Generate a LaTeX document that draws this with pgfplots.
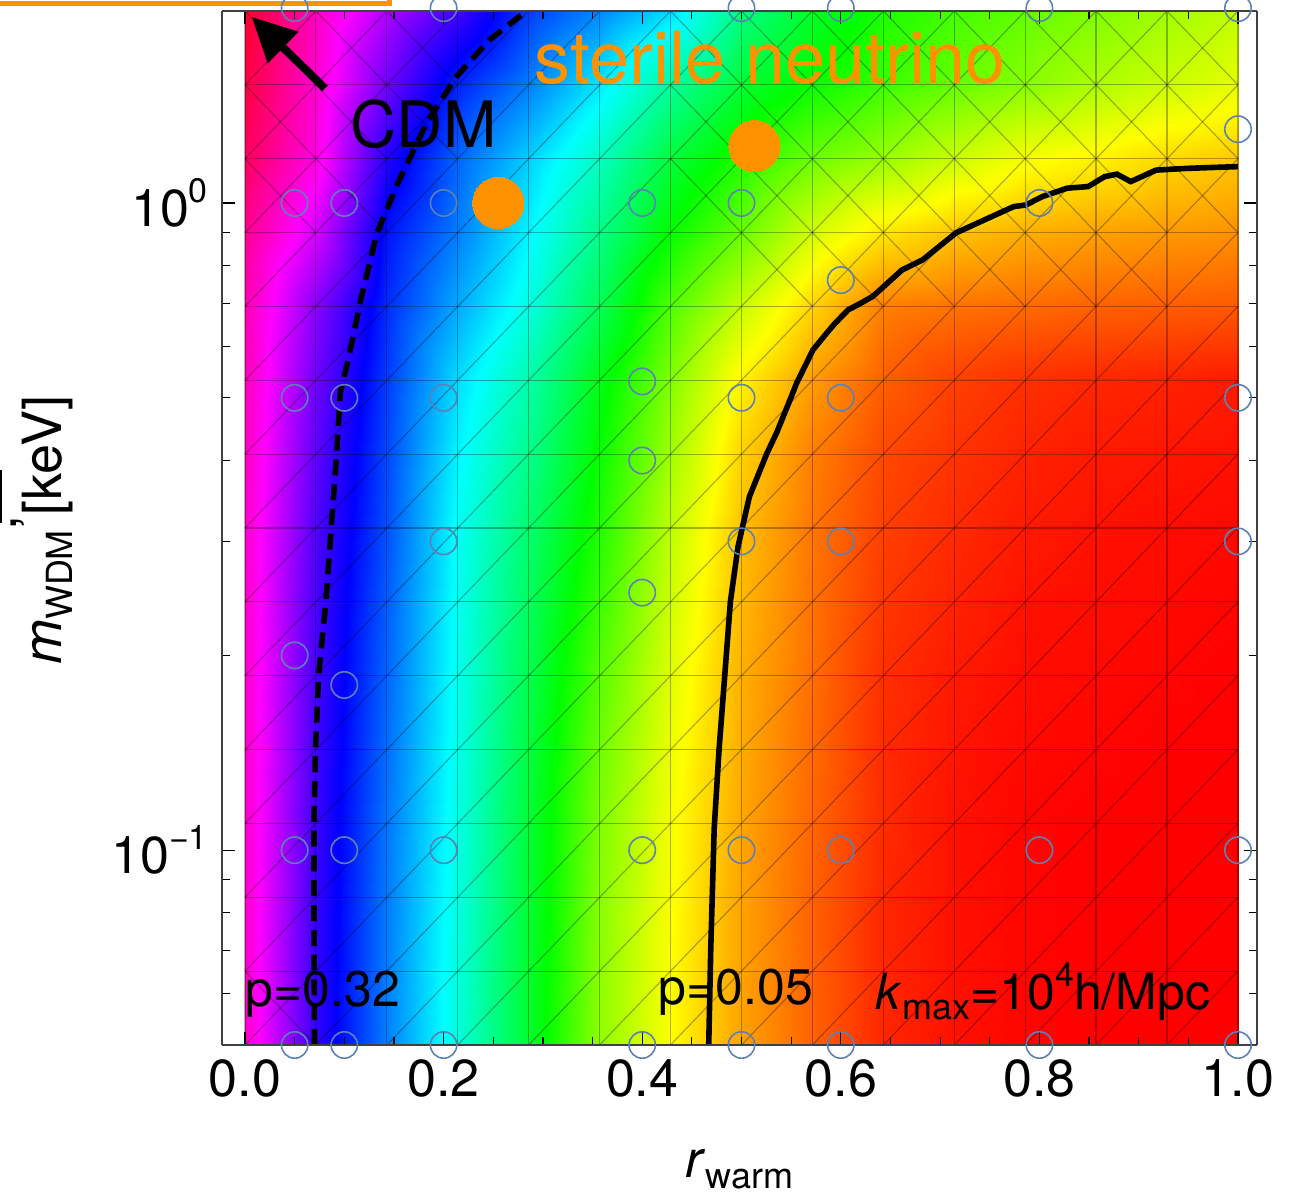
\documentclass[border=0pt]{standalone}
\usepackage{fontspec}
\setmainfont{TeX Gyre Heros}
\usepackage{pgfplots}
\pgfplotsset{compat=1.18}
\usetikzlibrary{arrows.meta}
\definecolor{mblue}{RGB}{94,129,181}
\definecolor{morange}{RGB}{255,146,0}
\tikzset{meshl/.style={draw=black, draw opacity=0.3, line width=0.3pt}}
\begin{document}
\begin{tikzpicture}
\begin{axis}[
  view={0}{90},
  scale only axis, width=258.75pt, height=258.5pt,
  xmin=-0.023162, xmax=1.019134,
  ymode=log, ymin=0.05, ymax=1.98,
  zmin=-1, zmax=1, ztick=\empty,
  xtick={0,0.2,0.4,0.6,0.8,1}, xticklabels={0.0,0.2,0.4,0.6,0.8,1.0},
  minor x tick num=3,
  ytick={0.1,1},
  yticklabels={10\raisebox{0.46em}{\fontsize{8.5}{10}\selectfont\textminus1},10\raisebox{0.46em}{\fontsize{8.5}{10}\selectfont 0}},
  minor ytick={0.06,0.07,0.08,0.09,0.2,0.3,0.4,0.5,0.6,0.7,0.8,0.9},
  tick align=inside,
  major tick length=3.3pt, minor tick length=1.9pt,
  tick style={black, line width=0.3pt},
  axis line style={black!75, line width=0.35pt},
  tick label style={font=\fontsize{13}{15}\selectfont},
  colormap={hue}{rgb255=(255,0,0) rgb255=(255,255,0) rgb255=(0,255,0) rgb255=(0,255,255) rgb255=(0,0,255) rgb255=(255,0,255) rgb255=(255,0,0)},
  point meta min=0, point meta max=360,
  axis on top, clip=false,
]
\addplot3[surf, shader=interp, mesh/cols=15, point meta=explicit] table[x=x, y=y, z expr=0, meta=h, row sep=\\] {
x y h\\
0 0.05 312\\ 0.0714 0.05 252\\ 0.1429 0.05 210\\ 0.2143 0.05 172\\ 0.2857 0.05 131\\ 0.3571 0.05 86\\ 0.4286 0.05 60\\ 0.5 0.05 38\\ 0.5714 0.05 23\\ 0.6429 0.05 9\\ 0.7143 0.05 4\\ 0.7857 0.05 1\\ 0.8571 0.05 0\\ 0.9286 0.05 0\\ 1 0.05 0\\
0 0.06503 312\\ 0.0714 0.06503 252\\ 0.1429 0.06503 210\\ 0.2143 0.06503 172\\ 0.2857 0.06503 131\\ 0.3571 0.06503 87\\ 0.4286 0.06503 60\\ 0.5 0.06503 38\\ 0.5714 0.06503 23\\ 0.6429 0.06503 9\\ 0.7143 0.06503 4\\ 0.7857 0.06503 1\\ 0.8571 0.06503 0\\ 0.9286 0.06503 0\\ 1 0.06503 0\\
0 0.08457 312\\ 0.0714 0.08457 253\\ 0.1429 0.08457 211\\ 0.2143 0.08457 173\\ 0.2857 0.08457 132\\ 0.3571 0.08457 88\\ 0.4286 0.08457 61\\ 0.5 0.08457 38\\ 0.5714 0.08457 23\\ 0.6429 0.08457 9\\ 0.7143 0.08457 4\\ 0.7857 0.08457 1\\ 0.8571 0.08457 0\\ 0.9286 0.08457 0\\ 1 0.08457 0\\
0 0.10999 312\\ 0.0714 0.10999 254\\ 0.1429 0.10999 212\\ 0.2143 0.10999 174\\ 0.2857 0.10999 133\\ 0.3571 0.10999 90\\ 0.4286 0.10999 62\\ 0.5 0.10999 39\\ 0.5714 0.10999 24\\ 0.6429 0.10999 10\\ 0.7143 0.10999 4\\ 0.7857 0.10999 1\\ 0.8571 0.10999 0\\ 0.9286 0.10999 0\\ 1 0.10999 0\\
0 0.14304 312\\ 0.0714 0.14304 255\\ 0.1429 0.14304 214\\ 0.2143 0.14304 175\\ 0.2857 0.14304 135\\ 0.3571 0.14304 94\\ 0.4286 0.14304 64\\ 0.5 0.14304 40\\ 0.5714 0.14304 25\\ 0.6429 0.14304 10\\ 0.7143 0.14304 5\\ 0.7857 0.14304 2\\ 0.8571 0.14304 1\\ 0.9286 0.14304 0\\ 1 0.14304 0\\
0 0.18603 312\\ 0.0714 0.18603 256\\ 0.1429 0.18603 216\\ 0.2143 0.18603 176\\ 0.2857 0.18603 138\\ 0.3571 0.18603 99\\ 0.4286 0.18603 67\\ 0.5 0.18603 41\\ 0.5714 0.18603 26\\ 0.6429 0.18603 11\\ 0.7143 0.18603 6\\ 0.7857 0.18603 3\\ 0.8571 0.18603 2\\ 0.9286 0.18603 1\\ 1 0.18603 0\\
0 0.24193 312\\ 0.0714 0.24193 257\\ 0.1429 0.24193 218\\ 0.2143 0.24193 177\\ 0.2857 0.24193 142\\ 0.3571 0.24193 106\\ 0.4286 0.24193 71\\ 0.5 0.24193 43\\ 0.5714 0.24193 27\\ 0.6429 0.24193 13\\ 0.7143 0.24193 8\\ 0.7857 0.24193 4\\ 0.8571 0.24193 3\\ 0.9286 0.24193 2\\ 1 0.24193 1\\
0 0.31464 312\\ 0.0714 0.31464 259\\ 0.1429 0.31464 221\\ 0.2143 0.31464 178\\ 0.2857 0.31464 146\\ 0.3571 0.31464 112\\ 0.4286 0.31464 75\\ 0.5 0.31464 45\\ 0.5714 0.31464 28\\ 0.6429 0.31464 15\\ 0.7143 0.31464 10\\ 0.7857 0.31464 6\\ 0.8571 0.31464 4\\ 0.9286 0.31464 3\\ 1 0.31464 2\\
0 0.40920 314\\ 0.0714 0.40920 262\\ 0.1429 0.40920 223\\ 0.2143 0.40920 182\\ 0.2857 0.40920 153\\ 0.3571 0.40920 118\\ 0.4286 0.40920 82\\ 0.5 0.40920 49\\ 0.5714 0.40920 30\\ 0.6429 0.40920 17\\ 0.7143 0.40920 12\\ 0.7857 0.40920 8\\ 0.8571 0.40920 6\\ 0.9286 0.40920 5\\ 1 0.40920 4\\
0 0.53218 316\\ 0.0714 0.53218 266\\ 0.1429 0.53218 226\\ 0.2143 0.53218 188\\ 0.2857 0.53218 160\\ 0.3571 0.53218 125\\ 0.4286 0.53218 89\\ 0.5 0.53218 57\\ 0.5714 0.53218 37\\ 0.6429 0.53218 22\\ 0.7143 0.53218 15\\ 0.7857 0.53218 11\\ 0.8571 0.53218 9\\ 0.9286 0.53218 8\\ 1 0.53218 6\\
0 0.69212 318\\ 0.0714 0.69212 272\\ 0.1429 0.69212 230\\ 0.2143 0.69212 200\\ 0.2857 0.69212 173\\ 0.3571 0.69212 140\\ 0.4286 0.69212 101\\ 0.5 0.69212 73\\ 0.5714 0.69212 50\\ 0.6429 0.69212 30\\ 0.7143 0.69212 27\\ 0.7857 0.69212 25\\ 0.8571 0.69212 23\\ 0.9286 0.69212 22\\ 1 0.69212 21\\
0 0.90012 326\\ 0.0714 0.90012 290\\ 0.1429 0.90012 236\\ 0.2143 0.90012 210\\ 0.2857 0.90012 182\\ 0.3571 0.90012 152\\ 0.4286 0.90012 119\\ 0.5 0.90012 95\\ 0.5714 0.90012 70\\ 0.6429 0.90012 54\\ 0.7143 0.90012 46\\ 0.7857 0.90012 41\\ 0.8571 0.90012 38\\ 0.9286 0.90012 36\\ 1 0.90012 34\\
0 1.17064 338\\ 0.0714 1.17064 306\\ 0.1429 1.17064 248\\ 0.2143 1.17064 216\\ 0.2857 1.17064 191\\ 0.3571 1.17064 165\\ 0.4286 1.17064 134\\ 0.5 1.17064 112\\ 0.5714 1.17064 94\\ 0.6429 1.17064 84\\ 0.7143 1.17064 72\\ 0.7857 1.17064 62\\ 0.8571 1.17064 57\\ 0.9286 1.17064 51\\ 1 1.17064 47\\
0 1.52245 344\\ 0.0714 1.52245 311\\ 0.1429 1.52245 266\\ 0.2143 1.52245 232\\ 0.2857 1.52245 210\\ 0.3571 1.52245 185\\ 0.4286 1.52245 156\\ 0.5 1.52245 132\\ 0.5714 1.52245 118\\ 0.6429 1.52245 106\\ 0.7143 1.52245 96\\ 0.7857 1.52245 88\\ 0.8571 1.52245 79\\ 0.9286 1.52245 72\\ 1 1.52245 66\\
0 1.98 349\\ 0.0714 1.98 315\\ 0.1429 1.98 281\\ 0.2143 1.98 255\\ 0.2857 1.98 226\\ 0.3571 1.98 208\\ 0.4286 1.98 188\\ 0.5 1.98 150\\ 0.5714 1.98 130\\ 0.6429 1.98 114\\ 0.7143 1.98 104\\ 0.7857 1.98 97\\ 0.8571 1.98 90\\ 0.9286 1.98 82\\ 1 1.98 75\\
};
% mesh of the interpolation grid
\foreach \i in {0,...,14}{%
  \pgfmathsetmacro\rx{(\i/14+0.023162)/1.042296}%
  \pgfmathsetmacro\ry{\i/14}%
  \edef\tmp{\noexpand\draw[meshl] (rel axis cs:\rx,0,0) -- (rel axis cs:\rx,1,0); \noexpand\draw[meshl] (rel axis cs:0.022222,\ry,0) -- (rel axis cs:0.981642,\ry,0);}%
  \tmp
}
\foreach \d in {-13,...,13}{%
  \pgfmathsetmacro\xa{(max(\d,0)/14+0.023162)/1.042296}%
  \pgfmathsetmacro\ya{max(0-(\d),0)/14}%
  \pgfmathsetmacro\xb{(min(14,14+(\d))/14+0.023162)/1.042296}%
  \pgfmathsetmacro\yb{min(14,14-(\d))/14}%
  \edef\tmp{\noexpand\draw[meshl] (rel axis cs:\xa,\ya,0) -- (rel axis cs:\xb,\yb,0);}%
  \tmp
}
\foreach \ilo/\ihi/\jlo/\jhi in {0/2/12/13,0/1/11/11,6/13/11/13,7/12/10/10,0/0/0/0}{%
  \foreach \i in {\ilo,...,\ihi}{%
    \foreach \j in {\jlo,...,\jhi}{%
      \pgfmathsetmacro\xa{(\i/14+0.023162)/1.042296}%
      \pgfmathsetmacro\xb{((\i+1)/14+0.023162)/1.042296}%
      \pgfmathsetmacro\ya{(\j+1)/14}%
      \pgfmathsetmacro\yb{\j/14}%
      \edef\tmp{\noexpand\draw[meshl] (rel axis cs:\xa,\ya,0) -- (rel axis cs:\xb,\yb,0);}%
      \tmp
}}}
% sample points
\addplot3[only marks, color=mblue, mark=o, mark size=3.3pt, mark options={draw=mblue, line width=0.4pt}] coordinates {
(0.05,2.0,0) (0.05,1,0) (0.05,0.5,0) (0.05,0.2,0) (0.05,0.1,0) (0.05,0.05,0)
(0.1,1,0) (0.1,0.5,0) (0.1,0.18,0) (0.1,0.1,0) (0.1,0.05,0)
(0.2,2.0,0) (0.2,1,0) (0.2,0.5,0) (0.2,0.3,0) (0.2,0.1,0) (0.2,0.05,0)
(0.4,1,0) (0.4,0.53,0) (0.4,0.4,0) (0.4,0.25,0) (0.4,0.1,0) (0.4,0.05,0)
(0.5,2.0,0) (0.5,1,0) (0.5,0.5,0) (0.5,0.3,0) (0.5,0.1,0) (0.5,0.05,0)
(0.6,2.0,0) (0.6,0.76,0) (0.6,0.5,0) (0.6,0.3,0) (0.6,0.1,0) (0.6,0.05,0)
(0.8,2.0,0) (0.8,1,0) (0.8,0.1,0) (0.8,0.05,0)
(1.0,2.0,0) (1.0,1.3,0) (1.0,0.5,0) (1.0,0.3,0) (1.0,0.1,0) (1.0,0.05,0)
};
% p = 0.32 contour (dashed)
\addplot3[black, mark=none, line width=1.4pt, dash pattern=on 4pt off 2.2pt] coordinates {
(0.0700,0.05,0) (0.0695,0.08,0) (0.0695,0.11,0) (0.0710,0.143,0) (0.0740,0.185,0) (0.0814,0.242,0) (0.0868,0.314,0) (0.0923,0.41,0) (0.0960,0.51,0) (0.1040,0.573,0) (0.1165,0.708,0) (0.133,0.899,0) (0.154,1.074,0) (0.183,1.33,0) (0.2126,1.566,0) (0.246,1.785,0) (0.2815,1.97,0)
};
% p = 0.05 contour (solid)
\addplot3[black, mark=none, line width=1.4pt] coordinates {
(0.467,0.05,0) (0.469,0.07,0) (0.4725,0.108,0) (0.4774,0.143,0) (0.483,0.185,0) (0.4888,0.242,0) (0.4965,0.2945,0) (0.508,0.352,0) (0.5255,0.41,0) (0.5354,0.4416,0) (0.549,0.497,0) (0.5556,0.527,0) (0.572,0.593,0) (0.586,0.630,0) (0.5935,0.65,0) (0.6075,0.684,0) (0.62,0.70,0) (0.632,0.717,0) (0.6395,0.734,0) (0.6616,0.788,0) (0.6825,0.817,0) (0.716,0.899,0) (0.741,0.936,0) (0.774,0.987,0) (0.7865,0.993,0) (0.803,1.023,0) (0.828,1.054,0) (0.849,1.06,0) (0.8656,1.098,0) (0.878,1.108,0) (0.892,1.079,0) (0.9175,1.124,0) (0.9488,1.131,0) (1.0,1.138,0)
};
% sterile neutrino models
\addplot3[only marks, color=morange, mark=*, mark size=6.4pt, mark options={fill=morange, draw=morange, line width=0pt}] coordinates {(0.255,1.0,0) (0.513,1.224,0)};
\draw[line width=2pt, -{Triangle[length=11pt,width=10.5pt]}] (axis cs:0.0806,1.503,0) -- (axis cs:0.0067,1.939,0);
\node[anchor=base west, inner sep=0, font=\fontsize{16}{18}\selectfont] at (axis cs:0.1057,1.22,0) {CDM};
\node[anchor=base, inner sep=0, text=morange, font=\fontsize{18}{20}\selectfont] at (axis cs:0.5287,1.532,0) {sterile neutrino};
\node[anchor=base west, inner sep=0, font=\fontsize{12.5}{14}\selectfont] at (axis cs:0,0.0574,0) {p=0.32};
\node[anchor=base west, inner sep=0, font=\fontsize{12.5}{14}\selectfont] at (axis cs:0.416,0.0578,0) {p=0.05};
\node[anchor=base west, inner sep=0, font=\fontsize{12.5}{14}\selectfont] at (axis cs:0.6344,0.0568,0) {\textit{k}\raisebox{-0.2em}{\fontsize{9}{10}\selectfont max}=10\raisebox{0.45em}{\fontsize{8.5}{10}\selectfont 4}h/Mpc};
% axis labels
\node[anchor=base, inner sep=0] at (rel axis cs:0.5,-0.1286,0) {\fontsize{13}{15}\selectfont\textit{r}\raisebox{-0.2em}{\fontsize{9}{10}\selectfont warm}};
\node[rotate=90, anchor=base, inner sep=0] at (rel axis cs:-0.1546,0.4976,0) {\fontsize{13.5}{16}\selectfont\textit{m}\raisebox{-0.19em}{\fontsize{9}{10}\selectfont WDM}\raisebox{0.85em}{,}[keV]};
% clipped legend frame and stray mark at the edges
\draw[morange, line width=1.2pt] (rel axis cs:-0.3,1.05,0) rectangle (rel axis cs:0.16184,1.00725,0);
\draw[black, line width=0.5pt] (rel axis cs:-0.21353,0.556,0) -- (rel axis cs:-0.21353,0.5048,0);
\coordinate (SW) at (rel axis cs:0,0,0);
\coordinate (NE) at (rel axis cs:1,1,0);
\end{axis}
\pgfresetboundingbox
\path[use as bounding box] ([shift={(-55.5pt,-36.5pt)}]SW) rectangle ([shift={(10.25pt,2.75pt)}]NE);
\end{tikzpicture}
\end{document}
